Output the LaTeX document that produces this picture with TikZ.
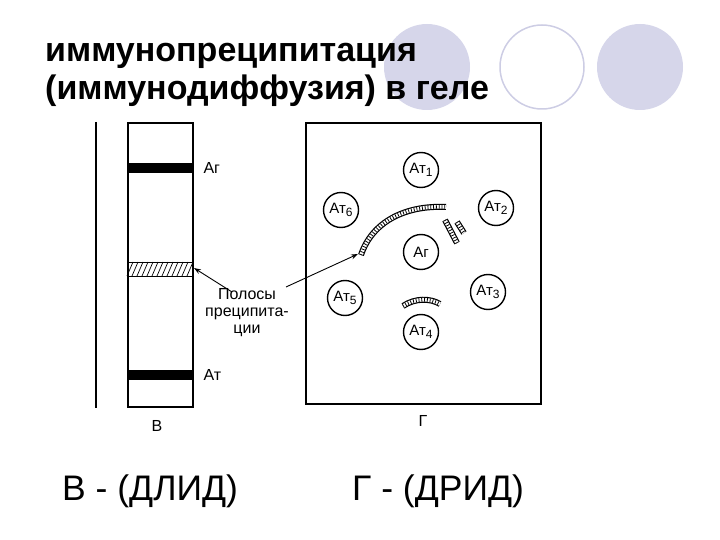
\documentclass[tikz,border=0pt]{standalone}
\usepackage{fontspec}
\usetikzlibrary{arrows.meta}
\setmainfont{Liberation Sans}
\definecolor{lav}{RGB}{214,214,234}
\definecolor{lavline}{RGB}{205,205,228}
\newcommand{\sbs}[1]{\raisebox{-3.5pt}{\fontsize{12}{12}\selectfont #1}}
\begin{document}
\begin{tikzpicture}[x=1pt,y=-1pt,
  well/.style={circle,draw,line width=1.4pt,minimum size=35pt,inner sep=0pt,font=\fontsize{15}{15}\selectfont},
  lbl/.style={font=\fontsize{16}{17}\selectfont,align=center},
  arr/.style={-{Stealth[length=7pt,width=5pt]},line width=0.9pt}]
\useasboundingbox (0,0) rectangle (720,540);
% decorative circles
\fill[lav] (427,67) circle (43);
\draw[lavline,line width=1.5pt] (542,67) circle (42);
\fill[lav] (640,67) circle (43);
% title
\node[anchor=base west,font=\bfseries\fontsize{34}{36}\selectfont,inner sep=0] (t1) at (45,62) {иммунопреципитация};
\node[anchor=base west,font=\bfseries\fontsize{34}{36}\selectfont,inner sep=0] (t2) at (45,100) {(иммунодиффузия) в геле};
% left panel
\draw[line width=1.6pt] (96,122) -- (96,408);
\node[draw,line width=1.6pt,minimum width=65pt,minimum height=284pt,inner sep=0,anchor=north west] (strip) at (127,122) {};
\fill (127,163) rectangle (192,173);
\fill (127,370) rectangle (192,380);
\draw[line width=1pt] (127,262) rectangle (192,276);
\foreach \i in {0,...,12} {\draw[line width=0.7pt] ({127+\i*5},276) -- ({133+\i*5},262);}
\node[lbl,anchor=west] (ag) at (200,168) {Аг};
\node[lbl,anchor=west] (at) at (200,375) {Ат};
\node[lbl] (pol) at (247,313) {Полосы\\преципита-\\ции};
\coordinate (hb) at (194,268);
\draw[arr] (232,292) -- (hb);
\node[lbl] (v) at (157,426) {В};
% right panel
\node[draw,line width=1.6pt,minimum width=235pt,minimum height=281pt,inner sep=0,anchor=north west] (box) at (305,122) {};
\node[well] (a1) at (421,170) {Ат\sbs{1}};
\node[well] (a2) at (496,208) {Ат\sbs{2}};
\node[well] (a3) at (488,292) {Ат\sbs{3}};
\node[well] (a4) at (421,332) {Ат\sbs{4}};
\node[well] (a5) at (345,298) {Ат\sbs{5}};
\node[well] (a6) at (341,210) {Ат\sbs{6}};
\node[well] (ag2) at (421,252) {Аг};
\node[lbl] (g) at (423,421) {Г};
% precipitation arcs
\foreach \p in {{(361,255) .. controls (372,222) and (405,205) .. (446,207)},{(403,306) .. controls (415,298) and (430,298) .. (440,304)},{(445,220) -- (457,243)},{(457,222) -- (464,233)}}{
  \draw[line width=6pt] \p;
  \draw[white,line width=3.6pt] \p;
  \draw[line width=3.6pt,dash pattern=on 0.8pt off 2pt] \p;
}
\coordinate (arcend) at (358,254);
\draw[arr] (286,287) -- (arcend);
\node[anchor=base west,font=\fontsize{35.5}{38}\selectfont,inner sep=0] (b1) at (62,500) {В - (ДЛИД)};
\node[anchor=base west,font=\fontsize{35.5}{38}\selectfont,inner sep=0] (b2) at (352,500) {Г - (ДРИД)};
\end{tikzpicture}
\end{document}
